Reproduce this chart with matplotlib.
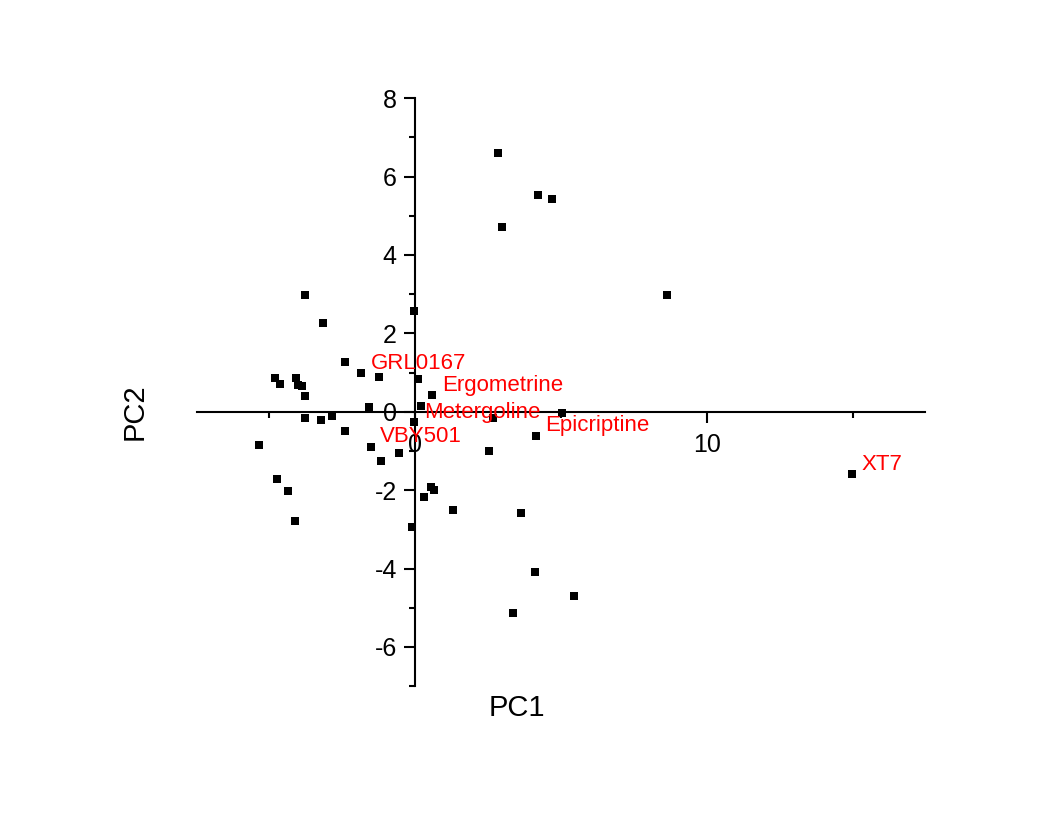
import numpy as np
import matplotlib
matplotlib.use("Agg")
import matplotlib.pyplot as plt
from matplotlib.ticker import MultipleLocator

plt.rcParams['font.family'] = ['Liberation Sans', 'DejaVu Sans']
plt.rcParams['axes.unicode_minus'] = False

# PCA scores
pc1 = [2.85, 4.20, 4.68, 2.98, 8.62, -3.77, -0.02, -3.14, -2.39, -1.84,
       -1.22, -4.79, -4.62, -4.05, -3.98, -3.85, -3.77, 0.11, 0.59, -1.57,
       0.22, -3.74, -3.20, -2.83, -2.40, -0.03, -5.32, -1.51, -1.16, -0.54,
       2.66, 2.54, 4.13, 5.03, -4.70, -4.34, -4.11, 0.54, 0.66, 0.32,
       1.30, -0.09, 3.63, 4.11, 3.35, 5.45, 14.96]
pc2 = [6.61, 5.54, 5.43, 4.72, 2.97, 2.99, 2.56, 2.27, 1.28, 0.98,
       0.89, 0.86, 0.71, 0.86, 0.68, 0.65, 0.39, 0.83, 0.43, 0.13,
       0.15, -0.16, -0.20, -0.10, -0.50, -0.26, -0.84, -0.89, -1.25, -1.06,
       -0.16, -0.99, -0.61, -0.03, -1.71, -2.02, -2.78, -1.91, -1.99, -2.17,
       -2.51, -2.93, -2.59, -4.08, -5.14, -4.69, -1.59]
names = [""] * len(pc1)
names[9] = "GRL0167"
names[18] = "Ergometrine"
names[25] = "Metergoline"
names[27] = "VBY501"
names[32] = "Epicriptine"
names[46] = "XT7"

fig = plt.figure(figsize=(10.59, 8.14), dpi=100)
ax = fig.add_axes([0.186, 0.157, 0.6875, 0.7225])

ax.scatter(pc1, pc2, marker='s', s=28, color='black', linewidths=0, zorder=3)
for x, y, name in zip(pc1, pc2, names):
    if name:
        ax.annotate(name, (x, y), xytext=(7, 7), textcoords='offset points',
                    color='red', fontsize=16, ha='left', va='center', zorder=4)

ax.set_xlim(-7.45, 17.45)
ax.set_ylim(-7, 8)

for side in ['top', 'right']:
    ax.spines[side].set_visible(False)
ax.spines['left'].set_position(('data', 0))
ax.spines['bottom'].set_position(('data', 0))
for side in ['left', 'bottom']:
    ax.spines[side].set_linewidth(1.5)

ax.xaxis.set_major_locator(MultipleLocator(10))
ax.xaxis.set_minor_locator(MultipleLocator(5))
ax.yaxis.set_major_locator(MultipleLocator(2))
ax.yaxis.set_minor_locator(MultipleLocator(1))
ax.tick_params(which='major', length=8, width=1.5, labelsize=18)
ax.tick_params(which='minor', length=4, width=1.5)
ax.tick_params(axis='x', which='major', pad=7)
ax.tick_params(axis='y', which='major', pad=5)

fig.text(0.488, 0.130, "PC1", fontsize=21, ha='center', va='center')
fig.text(0.1275, 0.494, "PC2", fontsize=21, ha='center', va='center', rotation=90)

fig.savefig("out.png", dpi=100)
